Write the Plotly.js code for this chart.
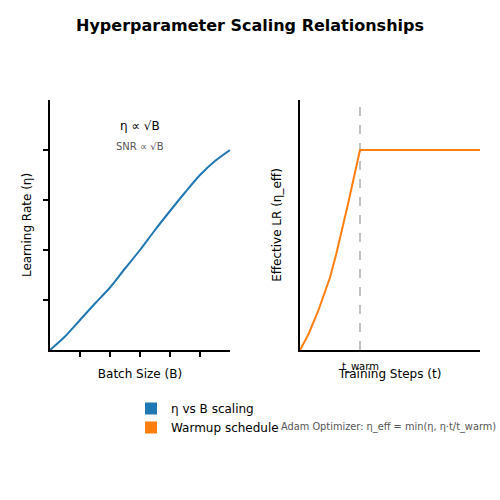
<!DOCTYPE html>
<html>
<head>
<meta charset="utf-8">
<script src="https://cdn.plot.ly/plotly-3.0.1.min.js"></script>
<style>html,body{margin:0;padding:0;background:#fff;}#chart{width:500px;height:500px;}</style>
</head>
<body>
<div id="chart"></div>
<script>
// Left panel: learning rate vs batch size
const batchSize = [0, 0.5, 1, 1.5, 2, 2.5, 3, 3.5, 4, 4.5, 5, 5.5, 6];
const learningRate = [0, 0.27, 0.6, 0.93, 1.25, 1.63, 2.0, 2.4, 2.78, 3.15, 3.5, 3.78, 4.0];
// Right panel: warmup schedule
const steps = [0, 0.05, 0.1, 0.15, 0.2, 0.25, 0.3, 0.4, 0.5, 0.6, 0.7, 0.8, 0.9, 1.0, 3.0];
const effLR = [0, 0.1, 0.22, 0.34, 0.48, 0.62, 0.77, 1.11, 1.45, 1.9, 2.39, 2.92, 3.46, 4.0, 4.0];
const tWarm = 1;
const leftYTicks = [1, 2, 3, 4];
const leftXTicks = [1, 2, 3, 4, 5];
const seriesNames = ['η vs B scaling', 'Warmup schedule'];
const colors = ['#1f77b4', '#ff7f0e'];

const FONT = 'DejaVu Sans, sans-serif';

const traces = [
  {x: batchSize, y: learningRate, xaxis: 'x', yaxis: 'y', mode: 'lines', line: {color: colors[0], width: 2, shape: 'spline', smoothing: 0.8}, showlegend: false, hoverinfo: 'skip'},
  {x: steps, y: effLR, xaxis: 'x2', yaxis: 'y2', mode: 'lines', line: {color: colors[1], width: 2, shape: 'linear'}, showlegend: false, hoverinfo: 'skip'},
  {type: 'bar', x: [null], y: [null], name: seriesNames[0], marker: {color: colors[0]}, xaxis: 'x', yaxis: 'y'},
  {type: 'bar', x: [null], y: [null], name: seriesNames[1], marker: {color: colors[1]}, xaxis: 'x', yaxis: 'y'}
];

const axisBase = {showline: true, linecolor: '#000', linewidth: 2, zeroline: false, showgrid: false, mirror: false, ticks: 'outside', tickcolor: '#000', ticklen: 5, tickwidth: 1.2, showticklabels: false, fixedrange: true};
const tf = {size: 12, family: FONT, color: '#000'};

const layout = {
  width: 500, height: 500,
  margin: {l: 0, r: 0, t: 0, b: 0},
  paper_bgcolor: '#fff', plot_bgcolor: '#fff',
  font: {family: FONT, color: '#000'},
  title: {text: '<b>Hyperparameter Scaling Relationships</b>', font: {size: 16, family: FONT, color: '#000'}, x: 0.5, xanchor: 'center', y: 0.95, yanchor: 'middle'},
  xaxis: Object.assign({}, axisBase, {domain: [0.1, 0.46], range: [0, 6], tickvals: leftXTicks, title: {text: 'Batch Size (B)', standoff: 14, font: tf}, anchor: 'y'}),
  yaxis: Object.assign({}, axisBase, {domain: [0.3, 0.8], range: [0, 5], tickvals: leftYTicks, title: {text: 'Learning Rate (η)', standoff: 9, font: tf}, anchor: 'x'}),
  xaxis2: Object.assign({}, axisBase, {domain: [0.6, 0.96], range: [0, 3], tickvals: [], ticks: '', title: {text: 'Training Steps (t)', standoff: 19, font: tf}, anchor: 'y2'}),
  yaxis2: Object.assign({}, axisBase, {domain: [0.3, 0.8], range: [0, 5], tickvals: [], ticks: '', title: {text: 'Effective LR (η_eff)', standoff: 14, font: tf}, anchor: 'x2'}),
  shapes: [
    {type: 'line', xref: 'x2', yref: 'y2', x0: tWarm, x1: tWarm, y0: 0, y1: 5, line: {color: '#999', width: 1.2, dash: 'dash'}, layer: 'below'}
  ],
  annotations: [
    {xref: 'x', yref: 'paper', x: 3, y: 0.748, text: 'η ∝ √B', showarrow: false, font: {size: 12, family: FONT, color: '#000'}, xanchor: 'center', yanchor: 'middle'},
    {xref: 'x', yref: 'paper', x: 3, y: 0.708, text: 'SNR ∝ √B', showarrow: false, font: {size: 10, family: FONT, color: '#555'}, xanchor: 'center', yanchor: 'middle'},
    {xref: 'x2', yref: 'paper', x: tWarm, y: 0.266, text: 't_warm', showarrow: false, font: {size: 10, family: FONT, color: '#000'}, xanchor: 'center', yanchor: 'middle'},
    {xref: 'paper', yref: 'paper', x: 0.558, y: 0.146, text: 'Adam Optimizer: η_eff = min(η, η·t/t_warm)', showarrow: false, font: {size: 9.8, family: FONT, color: '#555'}, xanchor: 'left', yanchor: 'middle'}
  ],
  legend: {x: 0.262, xanchor: 'left', y: 0.212, yanchor: 'top', orientation: 'v', font: {size: 12, family: FONT, color: '#000'}, bgcolor: 'rgba(0,0,0,0)', tracegroupgap: 0, itemwidth: 30}
};

Plotly.newPlot('chart', traces, layout, {displayModeBar: false, staticPlot: true});
</script>
</body>
</html>
